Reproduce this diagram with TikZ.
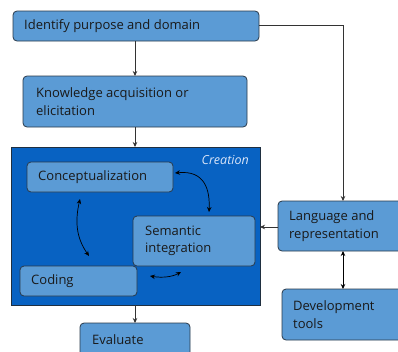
\documentclass[tikz,border=0pt]{standalone}
\usepackage{fontspec}
\setmainfont{Open Sans}
\usetikzlibrary{arrows.meta}
\definecolor{boxfill}{HTML}{5B9BD5}
\definecolor{boxline}{HTML}{2A3A4A}
\definecolor{creafill}{HTML}{0862C2}
\definecolor{crealine}{HTML}{1F2F40}
\definecolor{crealabel}{HTML}{D8E4F8}
\tikzset{
  x=1pt, y=-1pt,
  stagebox/.style={draw=boxline, line width=0.8pt, fill=boxfill, rounded corners=4pt},
  lbl/.style={anchor=west, font=\fontsize{13}{17.5}\selectfont, text=black!90, align=left, inner sep=0pt},
  flow/.style={draw=black!80, line width=0.7pt, -{Stealth[length=5pt,width=4.5pt]}},
  both/.style={draw=black, line width=0.7pt, {Stealth[length=5pt,width=4.5pt]}-{Stealth[length=5pt,width=4.5pt]}},
}
\begin{document}
\begin{tikzpicture}
\useasboundingbox (0,0) rectangle (398,351);
\clip (0,0) rectangle (398,351);
\fill[white] (0,0) rectangle (398,351);

% top stages
\draw[stagebox] (13,11) rectangle (259,41);
\node[lbl] (idt) at (24,26) {Identify purpose and domain};
\coordinate (idB) at (135,41);
\coordinate (idR) at (259,25);

\draw[stagebox] (23,76) rectangle (247,127);
\node[lbl] (kat) at (36,101.5) {Knowledge acquisition or\\elicitation};
\coordinate (kaT) at (135,76);
\coordinate (kaB) at (135,127);

% creation block
\draw[draw=crealine, line width=0.8pt, fill=creafill] (11,147) rectangle (260,305);
\node[anchor=east, font=\fontsize{12.5}{15}\selectfont\itshape, text=crealabel, inner sep=0pt] (crt) at (249,160) {Creation};
\coordinate (crT) at (135,147);
\coordinate (crB) at (135,305);
\coordinate (crR) at (260,227);

\draw[stagebox] (27,162) rectangle (173,192);
\node[lbl] (cot) at (38,177) {Conceptualization};
\draw[stagebox] (133,216) rectangle (255,266);
\node[lbl] (set) at (145,241) {Semantic\\integration};
\draw[stagebox] (20,266) rectangle (137,296);
\node[lbl] (cdt) at (31,281) {Coding};

\coordinate (c1) at (175,173);
\coordinate (c2) at (209,212);
\coordinate (l1) at (80,199);
\coordinate (l2) at (89,256);
\coordinate (b1) at (150,276);
\coordinate (b2) at (181,272);
\draw[both] (c1) .. controls (205,170) and (210,190) .. (c2);
\draw[both] (l1) .. controls (74,225) and (78,240) .. (l2);
\draw[both] (b1) .. controls (162,278) and (172,277) .. (b2);

% evaluation
\draw[stagebox] (80,323) rectangle (190,360);
\node[lbl] (evt) at (92,340) {Evaluate};
\coordinate (evT) at (135,323);

% language and tools
\draw[stagebox] (278,201) rectangle (402,251);
\node[lbl] (lat) at (289,226) {Language and\\representation};
\coordinate (laT) at (343,201);
\coordinate (laL) at (278,227);
\coordinate (laB) at (343,251);

\draw[stagebox] (282,289) rectangle (402,340);
\node[lbl] (dvt) at (293,314.5) {Development\\tools};
\coordinate (dvT) at (343,289);

% connectors
\draw[flow] (idB) -- (kaT);
\draw[flow] (kaB) -- (crT);
\draw[flow] (crB) -- (evT);
\draw[flow] (idR) -- (343,25) -- (laT);
\draw[flow] (laL) -- (crR);
\draw[both] (laB) -- (dvT);
\end{tikzpicture}
\end{document}
